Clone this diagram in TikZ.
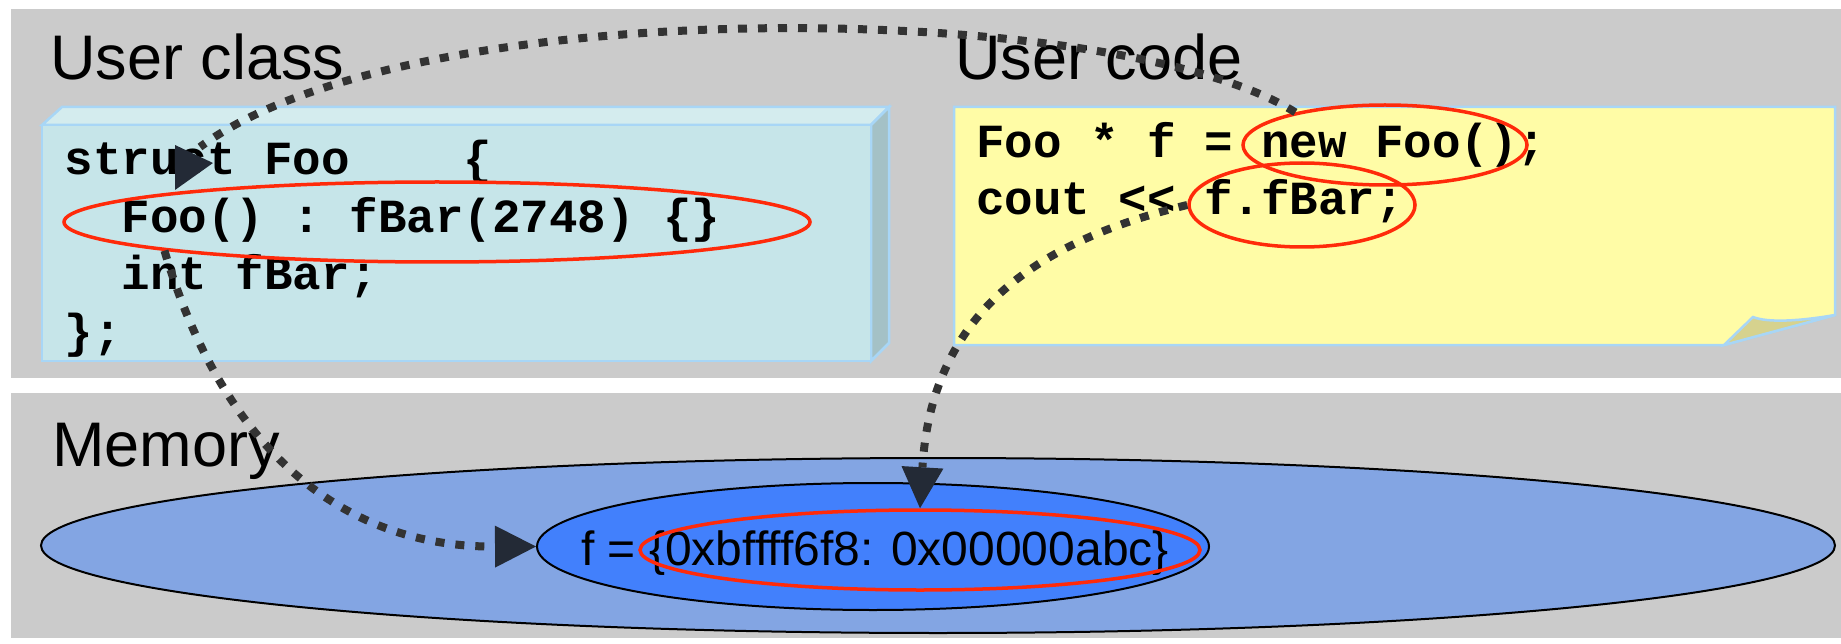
\documentclass[tikz,border=0pt]{standalone}
\usepackage{fontspec}
\setmainfont{Liberation Sans}
\newfontfamily\codefont{Liberation Mono}
\usetikzlibrary{shapes.geometric,arrows.meta}

\definecolor{panelgray}{HTML}{CBCBCB}
\definecolor{boxfront}{HTML}{C6E5E9}
\definecolor{boxtop}{HTML}{D4ECEE}
\definecolor{boxside}{HTML}{A4C1C6}
\definecolor{boxline}{HTML}{A8D6F6}
\definecolor{notefill}{HTML}{FFFCA6}
\definecolor{flapfill}{HTML}{D6D28E}
\definecolor{heapfill}{HTML}{83A5E3}
\definecolor{objfill}{HTML}{4280FC}
\definecolor{hlred}{HTML}{FF2A0A}
\definecolor{linkgray}{HTML}{333333}
\definecolor{headblue}{HTML}{232A36}

\begin{document}
\begin{tikzpicture}[x=1pt,y=-1pt,
  panel/.style={fill=panelgray},
  title/.style={anchor=base west, inner sep=0pt, font=\fontsize{63}{70}\selectfont},
  codeline/.style={anchor=base west, inner sep=0pt, font=\fontsize{47.5}{57}\selectfont\codefont\bfseries},
  hl/.style={ellipse, draw=hlred, line width=3.5pt, inner sep=0pt},
  region/.style={ellipse, draw=black, line width=2pt, inner sep=0pt},
  link/.style={draw=linkgray, line width=8pt, dash pattern=on 9pt off 11pt},
  tipped/.style={-{Triangle[length=41pt,width=42pt,line width=0pt,color=headblue]}},
  boxedge/.style={draw=boxline, line width=2.5pt, line join=miter}
]
\useasboundingbox (0,0) rectangle (1841,644);
\fill[white] (0,0) rectangle (1841,644);

% two background bands
\fill[panel] (10.5,9) rectangle (1841,378);
\fill[panel] (10.5,393) rectangle (1841,638);

% section titles
\node[title] (tclass) at (50,80) {User class};
\node[title] (tcode) at (955,80) {User code};
\node[title] (tmem) at (52,466) {Memory};

% class declaration block (3D box)
\filldraw[boxedge, fill=boxtop] (42,125) -- (62,107) -- (889,107) -- (871,125) -- cycle;
\filldraw[boxedge, fill=boxside] (871,125) -- (889,107) -- (889,343) -- (871,361) -- cycle;
\filldraw[boxedge, fill=boxfront] (42,125) rectangle (871,361);

\node[codeline] (cls1) at (64.5,175) {struct~Foo~~~~\{};
\node[codeline] (cls2) at (64.5,233) {\phantom{xx}Foo()~:~fBar(2748)~\{\}};
\node[codeline] (cls3) at (64.5,290) {\phantom{xx}int~fBar;};
\node[codeline] (cls4) at (64.5,347) {\};};

% code note with folded corner
\filldraw[boxedge, fill=notefill] (954,107) -- (1835,107) -- (1835,315) -- (1724,345) -- (954,345) -- cycle;
\filldraw[boxedge, fill=flapfill] (1724,345) -- (1753,317) .. controls (1768,323) and (1800,321) .. (1835,315) -- cycle;

\node[codeline] (usr1) at (976,158) {Foo~*~f~=~new~Foo();};
\node[codeline] (usr2) at (976,215) {cout~<<~f.fBar;};

% memory
\node[region, fill=heapfill, minimum width=1794pt, minimum height=175pt] (heap) at (938,545.5) {};
\node[region, fill=objfill, minimum width=672pt, minimum height=127pt] (obj) at (873,546.5) {};
\node[anchor=base west, inner sep=0pt, font=\fontsize{48}{56}\selectfont] (memtxt) at (581,565) {f = \{0xbffff6f8: 0x00000abc\}};

% highlights
\node[hl, minimum width=746pt, minimum height=80pt] (hctor) at (437,222) {};
\node[hl, minimum width=284pt, minimum height=80pt] (hnew) at (1385,145) {};
\node[hl, minimum width=226pt, minimum height=84pt] (hbar) at (1302,205) {};
\node[hl, minimum width=560pt, minimum height=80pt] (hval) at (920,550) {};

% connectors
\coordinate (toclass) at (200,147);
\coordinate (classhead) at (213,163);
\draw[link] (hnew.160) .. controls (1118,0) and (414,-11) .. (toclass);
\fill[headblue] (classhead) -- ++(-38,-18) -- ++(0,45) -- cycle;

\draw[link, tipped] (hctor.186) .. controls (222,444) and (337,547) .. (obj.west);
\draw[link, tipped] (hbar.west) .. controls (1043,240) and (932,308) .. (hval.north);
\end{tikzpicture}
\end{document}
